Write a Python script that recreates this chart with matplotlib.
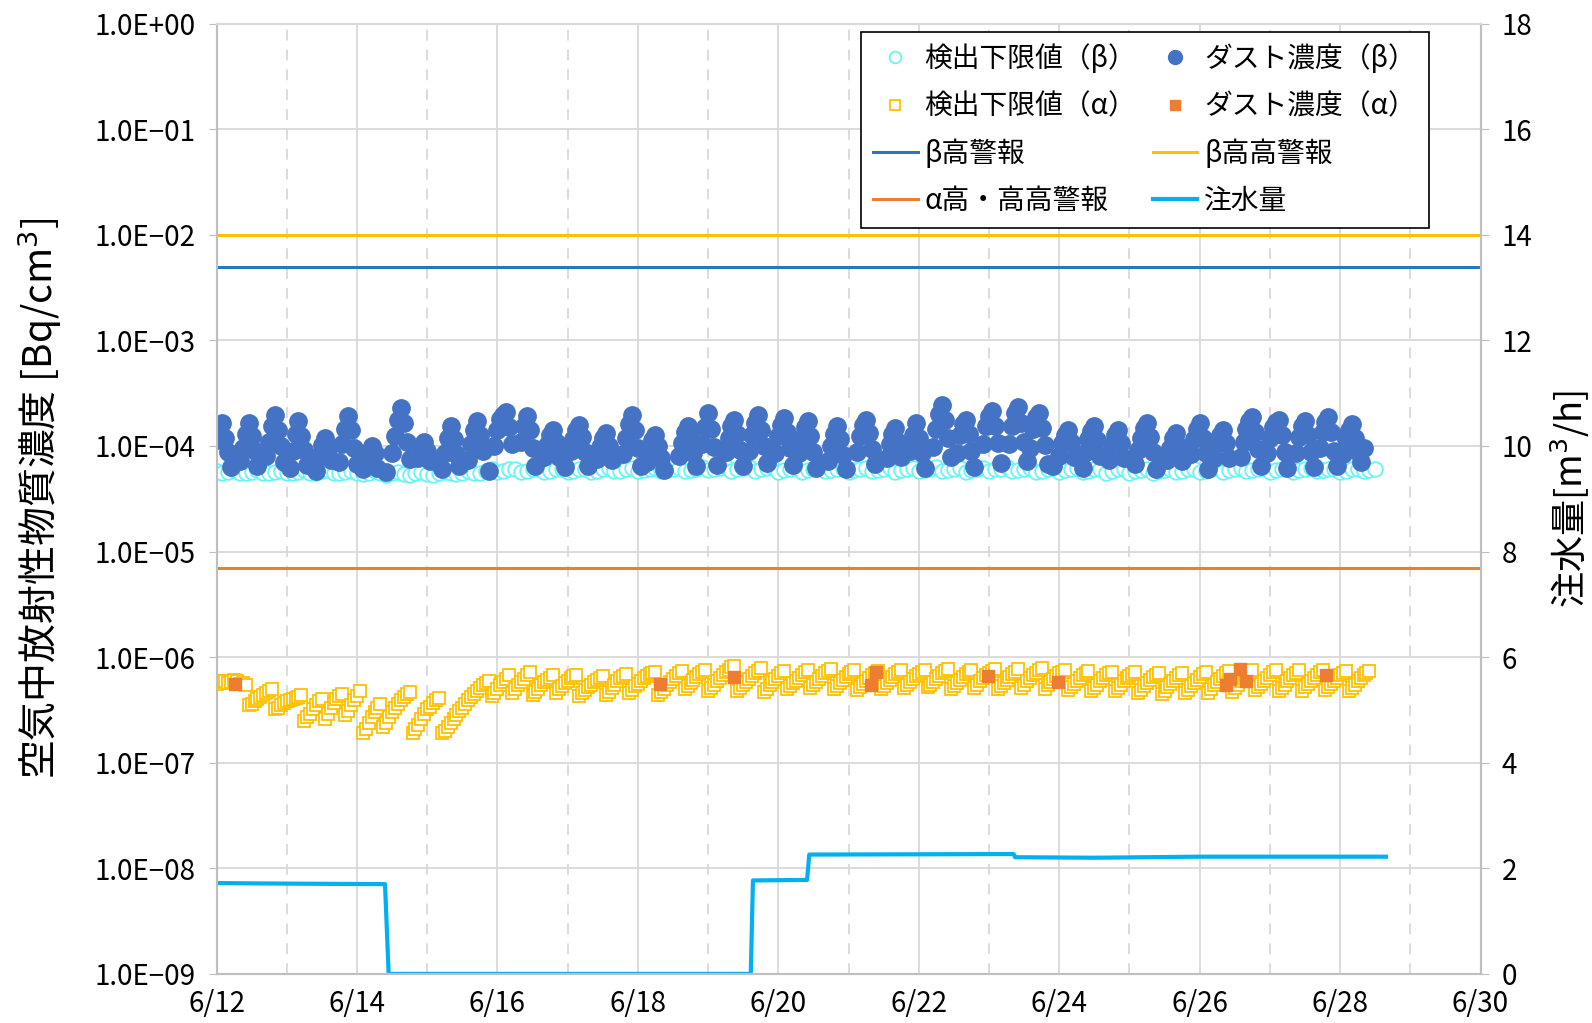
import matplotlib
matplotlib.use("Agg")
import matplotlib.pyplot as plt
import matplotlib.dates as mdates
import matplotlib.ticker as mticker
import numpy as np
import pandas as pd

plt.rcParams['font.family'] = ['Noto Sans CJK JP', 'DejaVu Sans']
plt.rcParams['mathtext.fontset'] = 'dejavusans'

n = np.nan  # 不検出

# 検出下限値(β)  2時間毎  単位 1e-5 Bq/cm3
beta_dl = [
    5.8, 5.6, 5.7, 5.9, 5.6, 5.5, 5.7, 5.9, 5.6, 5.5, 5.7, 5.8,
    5.6, 5.5, 5.7, 5.9, 5.6, 5.5, 5.8, 5.9, 5.6, 5.5, 5.7, 5.8,
    5.5, 5.4, 5.6, 5.8, 5.5, 5.3, 5.5, 5.7, 5.4, 5.3, 5.5, 5.7,
    5.4, 5.3, 5.5, 5.7, 5.5, 5.4, 5.6, 5.8, 5.5, 5.6, 5.8, 6.0,
    5.7, 5.8, 6.0, 6.1, 5.7, 5.8, 6.0, 6.1, 5.7, 5.8, 6.0, 6.1,
    5.7, 5.8, 6.0, 6.1, 5.7, 5.8, 6.0, 6.2, 5.8, 5.8, 6.0, 6.2,
    5.8, 5.9, 6.1, 6.2, 5.8, 5.9, 6.1, 6.2, 5.8, 5.9, 6.1, 6.3,
    5.9, 6.0, 6.2, 6.3, 5.8, 6.0, 6.2, 6.3, 5.8, 6.0, 6.2, 6.3,
    5.7, 5.9, 6.1, 6.2, 5.7, 5.9, 6.1, 6.3, 5.8, 5.9, 6.1, 6.2,
    5.7, 5.9, 6.0, 6.2, 5.8, 5.9, 6.1, 6.2, 5.7, 5.9, 6.1, 6.2,
    5.8, 5.9, 6.1, 6.3, 5.8, 5.9, 6.1, 6.2, 5.7, 5.9, 6.0, 6.2,
    5.8, 6.0, 6.1, 6.3, 5.8, 5.9, 6.1, 6.2, 5.7, 5.8, 6.0, 6.2,
    5.7, 5.9, 6.0, 6.2, 5.7, 5.8, 6.0, 6.1, 5.6, 5.8, 6.0, 6.1,
    5.6, 5.8, 5.9, 6.1, 5.6, 5.8, 5.9, 6.1, 5.7, 5.8, 6.0, 6.1,
    5.7, 5.8, 6.0, 6.2, 5.7, 5.9, 6.0, 6.2, 5.8, 5.9, 6.1, 6.2,
    5.7, 5.9, 6.0, 6.2, 5.7, 5.9, 6.1, 6.2, 5.8, 5.9, 6.0, 6.1,
    5.7, 5.8, 6.0, 6.1, 5.8, 5.9, 6.0,
]

# ダスト濃度(β)  1時間毎  単位 1e-5 Bq/cm3
beta_dust = [
    11.5, 14.0, 16.4, 12.0, 8.8, 6.3, n, n, 7.2, 9.5, 13.0, 16.4, 12.5, 9.0, 6.5, n, n, 8.0, 11.0, 15.5, 19.7, 14.0, 10.0, 7.0,
    n, 6.2, 9.0, 13.0, 17.1, 12.5, 9.2, 6.6, n, n, 5.8, 8.0, 10.2, 11.9, 9.4, 7.3, n, n, 7.0, 10.5, 14.5, 19.0, 14.0, 9.5,
    6.8, n, 6.0, 7.4, 8.8, 10.0, 8.6, 6.2, n, n, 5.7, n, 8.5, 12.5, 17.5, 22.8, 16.5, 11.0, 7.5, n, n, 7.6, 9.5, 11.0,
    9.0, 7.2, n, n, n, 6.1, 8.6, 11.8, 15.3, 11.6, 8.4, 6.4, n, n, 7.4, 10.5, 14.0, 17.1, 12.8, 9.0, n, 5.8, n, 10.0,
    14.0, 17.8, 19.8, 21.0, 15.0, 10.5, n, n, 11.0, 15.5, 19.0, 14.0, 9.5, 6.4, n, n, 7.8, 10.2, 12.6, 14.2, 10.8, 7.9, n, 6.3,
    n, 8.9, 11.6, 14.0, 15.9, 12.2, 8.8, 6.4, n, n, 7.5, 9.8, 12.0, 13.2, 10.0, 7.4, n, n, n, 8.4, 12.0, 16.2, 19.7, 14.0,
    9.5, 6.5, n, 7.0, 9.2, 11.4, 12.8, 10.0, 7.6, 5.9, n, n, n, n, 8.0, 10.6, 13.4, 15.3, 11.8, 8.6, 6.4, n, 10.5, 15.0,
    20.5, 14.5, 9.8, 6.6, n, n, 8.8, 12.0, 15.5, 17.7, 13.0, 9.2, 6.5, n, 9.0, 12.8, 16.5, 19.7, 14.2, 10.0, 6.9, n, n, 8.5,
    12.5, 15.8, 18.4, 13.5, 9.6, 6.6, n, 8.6, 11.8, 15.0, 17.1, 12.4, 8.8, 6.2, n, n, n, 7.2, 10.0, 13.0, 15.3, 11.6, 8.2, 6.0,
    n, n, n, 8.8, 12.4, 15.8, 17.7, 13.2, 9.4, 6.7, n, n, n, 7.6, 10.4, 13.0, 14.7, 11.0, 7.8, n, n, 9.0, 12.6, 16.4,
    12.0, 8.5, 6.2, n, n, 9.8, 14.5, 20.0, 24.5, 17.5, 12.0, 7.8, n, 8.6, 12.8, 16.0, 17.7, 13.0, 9.0, 6.3, n, n, 10.5, 15.5,
    19.0, 21.2, 15.4, 10.6, 6.9, n, n, 10.5, 15.5, 20.5, 23.4, 16.5, 11.0, 7.2, 9.6, 14.5, 18.6, 20.4, 14.8, 10.2, 6.8, n, 6.4, n,
    8.0, 10.6, 12.8, 14.2, 10.8, 7.8, n, n, 6.2, 8.8, 11.6, 13.8, 15.3, 11.4, 8.0, n, n, 7.4, 10.2, 12.6, 14.2, 10.6, 7.6, n,
    n, n, 6.8, 9.2, 12.0, 14.8, 16.4, 12.2, 8.8, 6.1, n, n, n, 7.4, 9.6, 11.8, 13.2, 10.0, 7.2, n, n, 8.4, 11.6, 14.6,
    16.4, 12.0, 8.6, 6.0, n, 7.6, 10.4, 12.8, 14.2, 10.6, 7.6, n, n, n, 7.8, 10.8, 14.4, 17.2, 18.9, 13.6, 9.4, 6.4, n, 8.6,
    12.0, 15.2, 17.0, 17.7, 12.8, 8.8, 6.2, n, n, 8.6, 12.2, 15.4, 17.1, 12.6, 8.8, 6.3, n, 9.6, 13.6, 16.8, 18.9, 13.4, 9.0, 6.4,
    n, 8.4, 11.6, 14.2, 16.0, 12.0, 8.8, 7.0, 9.6,
]

# 検出下限値(α)  1時間毎  単位 1e-7 Bq/cm3
alpha_dl = [
    5.6, 5.8, 6.0, 5.9, 5.7, 5.8, 6.1, 5.9, 5.6, 5.7, 5.5, 3.5, 3.6, 3.8, 4.0, 4.2, 4.4, 4.6, 4.8, 5.0, 3.2, 3.3, 3.5, 3.7,
    3.8, 3.9, 4.0, 4.1, 4.2, 4.35, 2.5, 2.7, 2.9, 3.2, 3.5, 3.8, 4.0, 2.6, 2.9, 3.3, 3.7, 4.0, 4.3, 4.5, 2.8, 3.1, 3.5, 3.9,
    4.3, 4.8, 1.9, 2.1, 2.4, 2.7, 3.0, 3.3, 3.6, 2.2, 2.4, 2.7, 3.0, 3.3, 3.6, 3.9, 4.2, 4.5, 4.7, 1.9, 2.1, 2.3, 2.6, 2.9,
    3.2, 3.4, 3.7, 3.9, 4.1, 1.9, 2.0, 2.2, 2.4, 2.6, 2.8, 3.1, 3.3, 3.6, 3.9, 4.2, 4.5, 4.8, 5.1, 5.4, 5.7, 5.9, 4.3, 4.6,
    5.0, 5.4, 5.8, 6.2, 6.7, 4.6, 5.0, 5.4, 5.8, 6.2, 6.7, 7.2, 4.4, 4.7, 5.0, 5.4, 5.8, 6.1, 6.4, 6.7, 4.6, 5.0, 5.3, 5.7,
    6.0, 6.3, 6.6, 6.8, 4.3, 4.6, 4.9, 5.2, 5.5, 5.8, 6.1, 6.4, 6.6, 4.4, 4.7, 5.1, 5.5, 5.9, 6.3, 6.6, 6.9, 4.6, 4.9, 5.3,
    5.6, 6.0, 6.3, 6.6, 6.9, 7.1, 7.3, 4.4, 4.7, 5.0, 5.4, 5.8, 6.2, 6.6, 7.0, 7.4, 5.0, 5.3, 5.7, 6.1, 6.5, 6.9, 7.3, 7.6,
    4.8, 5.1, 5.5, 5.9, 6.3, 6.8, 7.2, 7.6, 8.0, 8.3, 4.8, 5.1, 5.4, 5.8, 6.2, 6.6, 7.0, 7.4, 7.9, 4.7, 5.0, 5.4, 5.8, 6.2,
    6.6, 7.0, 7.4, 5.0, 5.3, 5.7, 6.0, 6.4, 6.8, 7.2, 7.6, 5.1, 5.4, 5.8, 6.2, 6.6, 7.0, 7.4, 7.7, 5.0, 5.3, 5.7, 6.1, 6.5,
    6.9, 7.2, 7.5, 4.9, 5.2, 5.6, 6.0, 6.4, 6.8, 7.1, 7.4, 5.0, 5.3, 5.7, 6.1, 6.5, 6.9, 7.2, 7.5, 5.1, 5.4, 5.8, 6.2, 6.6,
    6.9, 7.3, 7.6, 5.2, 5.5, 5.8, 6.2, 6.6, 7.0, 7.4, 7.7, 5.0, 5.3, 5.7, 6.1, 6.5, 6.9, 7.3, 7.6, 5.1, 5.5, 5.9, 6.3, 6.7,
    7.0, 7.4, 7.7, 5.0, 5.3, 5.7, 6.1, 6.5, 6.9, 7.3, 7.7, 5.1, 5.5, 5.9, 6.3, 6.7, 7.1, 7.5, 7.9, 5.0, 5.4, 5.8, 6.2, 6.6,
    7.0, 7.3, 7.6, 4.9, 5.2, 5.6, 6.0, 6.4, 6.8, 7.1, 7.4, 4.8, 5.1, 5.5, 5.9, 6.3, 6.7, 7.0, 7.3, 4.8, 5.1, 5.5, 5.9, 6.3,
    6.6, 6.9, 7.2, 4.6, 4.9, 5.3, 5.7, 6.1, 6.5, 6.8, 7.0, 4.5, 4.8, 5.2, 5.6, 6.0, 6.4, 6.8, 7.1, 4.6, 4.9, 5.3, 5.7, 6.1,
    6.5, 6.9, 7.2, 4.6, 5.0, 5.4, 5.8, 6.2, 6.6, 7.0, 7.4, 4.7, 5.1, 5.5, 5.9, 6.3, 6.7, 7.1, 7.5, 4.9, 5.2, 5.6, 6.0, 6.4,
    6.8, 7.2, 7.5, 4.8, 5.1, 5.5, 5.9, 6.3, 6.7, 7.1, 7.5, 4.8, 5.2, 5.6, 6.0, 6.4, 6.8, 7.2, 7.6, 4.9, 5.2, 5.6, 6.0, 6.4,
    6.8, 7.1, 7.4, 4.8, 5.1, 5.5, 5.9, 6.3, 6.7, 7.1, 7.4,
]

# ダスト濃度(α)  検出時のみ
alpha_dust_time = ['2023-06-12 06:15', '2023-06-18 07:40', '2023-06-19 08:50', '2023-06-21 07:40',
                   '2023-06-21 09:20', '2023-06-22 23:30', '2023-06-23 23:30', '2023-06-26 08:50',
                   '2023-06-26 10:20', '2023-06-26 13:40', '2023-06-26 15:40', '2023-06-27 19:10']
alpha_dust = [5.6, 5.6, 6.5, 5.5, 7.3, 6.6, 5.8, 5.5, 6.2, 7.8, 6.0, 6.7]   # 1e-7

# 注水量 m3/h
flow_time = ['2023-06-12 00:00', '2023-06-13 00:00', '2023-06-14 09:35', '2023-06-14 10:50',
             '2023-06-19 14:35', '2023-06-19 15:20', '2023-06-20 09:50', '2023-06-20 10:35',
             '2023-06-23 08:25', '2023-06-23 08:55', '2023-06-24 12:00', '2023-06-26 00:00',
             '2023-06-28 15:40']
flow = [1.72, 1.71, 1.70, 0.0, 0.0, 1.77, 1.78, 2.26, 2.27, 2.21, 2.20, 2.22, 2.22]

# 警報設定値
beta_high = 5.0e-3
beta_high_high = 1.0e-2
alpha_alarm = 7.0e-6

t_beta_dl = pd.date_range('2023-06-12', periods=len(beta_dl), freq='2h')
t_beta_dust = pd.date_range('2023-06-12', periods=len(beta_dust), freq='h')
t_alpha_dl = pd.date_range('2023-06-12', periods=len(alpha_dl), freq='h')

fig = plt.figure(figsize=(15.92, 10.23), dpi=100)
ax1 = fig.add_axes([0.136, 0.048, 0.794, 0.929])
ax2 = ax1.twinx()

grid_c = '#D9D9D9'
ax1.set_yscale('log')
ax1.set_ylim(1e-9, 1e0)
ax1.set_xlim(pd.Timestamp('2023-06-12'), pd.Timestamp('2023-06-30'))

ax1.plot(t_beta_dl, np.array(beta_dl) * 1e-5, 'o', ms=10.5, mfc='white', mec='#66F4F4',
         mew=1.3, zorder=3, label='検出下限値（β）')
ax1.plot(t_beta_dust, np.array(beta_dust) * 1e-5, 'o', ms=12.5, color='#4472C4', mec='#4472C4',
         zorder=4, label='ダスト濃度（β）')
ax1.plot(t_alpha_dl, np.array(alpha_dl) * 1e-7, 's', ms=9, mfc='white', mec='#FFC000',
         mew=1.3, zorder=3, label='検出下限値（α）')
ax1.plot(pd.to_datetime(alpha_dust_time), np.array(alpha_dust) * 1e-7, 's', ms=9,
         color='#ED7D31', zorder=5, label='ダスト濃度（α）')
ax1.axhline(beta_high, color='#2E75B6', lw=2.2, zorder=2, label='β高警報')
ax1.axhline(beta_high_high, color='#FFC000', lw=2.2, zorder=2, label='β高高警報')
ax1.axhline(alpha_alarm, color='#ED7D31', lw=2.2, zorder=2, label='α高・高高警報')

ax2.plot(pd.to_datetime(flow_time), flow, color='#00B0F0', lw=3, label='注水量')
ax2.set_ylim(0, 18)
ax2.set_yticks(np.arange(0, 19, 2))

# 目盛
ax1.yaxis.set_major_locator(mticker.LogLocator(base=10, numticks=12))
ax1.yaxis.set_minor_locator(mticker.NullLocator())
ax1.yaxis.set_major_formatter(mticker.FuncFormatter(
    lambda v, p: ('%.1E' % v).replace('-', '\u2212')))
ax1.xaxis.set_major_locator(mdates.DayLocator(bymonthday=range(12, 31, 2)))
ax1.xaxis.set_minor_locator(mdates.DayLocator(bymonthday=range(13, 30, 2)))
ax1.xaxis.set_major_formatter(mticker.FuncFormatter(
    lambda v, p: '%d/%d' % (mdates.num2date(v).month, mdates.num2date(v).day)))
ax1.xaxis.set_minor_formatter(mticker.NullFormatter())
ax1.xaxis.get_offset_text().set_visible(False)
ax2.xaxis.get_offset_text().set_visible(False)

ax1.grid(True, which='major', axis='both', color=grid_c, lw=1.3, zorder=0)
ax1.grid(True, which='minor', axis='x', color=grid_c, lw=1.3, ls=(0, (6, 5)), zorder=0)
ax1.set_axisbelow(True)

ax1.tick_params(axis='y', labelsize=20, length=6, pad=9, color='#BFBFBF')
ax1.tick_params(axis='x', which='both', labelsize=20, length=0, pad=11)
ax2.tick_params(axis='y', labelsize=20, length=6, pad=9, color='#BFBFBF')

for ax in (ax1, ax2):
    for s in ax.spines.values():
        s.set_color('#BFBFBF')
        s.set_linewidth(1.5)
    ax.spines['top'].set_color(grid_c)

ax1.set_ylabel('空気中放射性物質濃度 [Bq/cm$^{3}$]', fontsize=28, labelpad=22)
ax2.set_ylabel('注水量[m$^{3}$/h]', fontsize=26, labelpad=12)

# 凡例
h1, l1 = ax1.get_legend_handles_labels()
h2, l2 = ax2.get_legend_handles_labels()
hd = dict(zip(l1 + l2, h1 + h2))
order = ['検出下限値（β）', '検出下限値（α）', 'β高警報', 'α高・高高警報',
         'ダスト濃度（β）', 'ダスト濃度（α）', 'β高高警報', '注水量']
leg = ax2.legend([hd[k] for k in order], order, ncol=2, loc='upper left',
                 bbox_to_anchor=(0.5096, 0.9915), borderaxespad=0, fontsize=20,
                 frameon=True, fancybox=False, edgecolor='black', framealpha=1,
                 markerscale=0.8, handlelength=1.6, handletextpad=0.25,
                 columnspacing=0.6, labelspacing=0.62, borderpad=0.45)
leg.get_frame().set_linewidth(1.2)

fig.savefig('out.png', dpi=100)
